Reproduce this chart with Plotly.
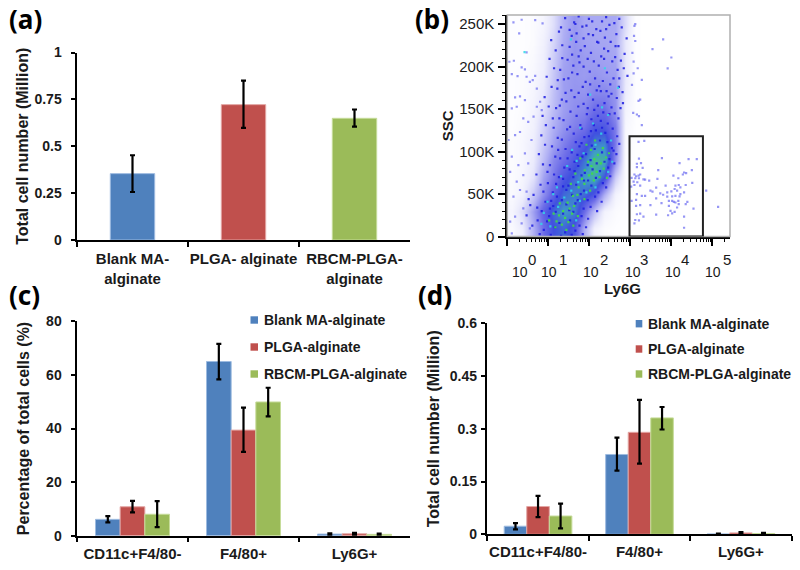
import math
import plotly.graph_objects as go

BLUE, RED, GREEN = "#4F81BD", "#C0504D", "#9BBB59"
FONT = "Liberation Sans"
W, H = 800, 570

# ---- panel (a)
a_cats = ["Blank MA-<br>alginate", "PLGA- alginate", "RBCM-PLGA-<br>alginate"]
a_vals = [0.354, 0.722, 0.649]
a_hi = [0.098, 0.128, 0.047]
a_lo = [0.098, 0.124, 0.044]
a_ticks = [0, 0.25, 0.5, 0.75, 1]
a_ticktext = ["0", "0.25", "0.5", "0.75", "1"]

# ---- panels (c), (d)
series = ["Blank MA-alginate", "PLGA-alginate", "RBCM-PLGA-alginate"]
cd_cats = ["CD11c+F4/80-", "F4/80+", "Ly6G+"]
c_vals = [[6.1, 65.0, 0.6], [10.8, 39.4, 0.7], [8.0, 49.9, 0.5]]
c_hi = [[1.2, 6.6, 0.3], [2.2, 8.4, 0.4], [4.9, 5.3, 0.3]]
c_lo = [[1.1, 6.7, 0.3], [2.1, 8.1, 0.4], [4.8, 5.4, 0.3]]
c_ticks = [0, 20, 40, 60, 80]
d_vals = [[0.023, 0.227, 0.001], [0.079, 0.290, 0.004], [0.052, 0.331, 0.002]]
d_hi = [[0.009, 0.048, 0.001], [0.030, 0.092, 0.002], [0.035, 0.031, 0.002]]
d_lo = [[0.009, 0.046, 0.001], [0.030, 0.089, 0.002], [0.035, 0.033, 0.002]]
d_ticks = [0, 0.15, 0.3, 0.45, 0.6]
d_ticktext = ["0", "0.15", "0.3", "0.45", "0.6"]

# ---- panel (b): flow-cytometry plot, x in decades of Ly6G, y in thousands of SSC
b_yticks = [0, 50, 100, 150, 200, 250]
b_yticktext = ["0", "50K", "100K", "150K", "200K", "250K"]
b_exponents = [0, 1, 2, 3, 4, 5]
b_gate_x = [2.98, 4.77]
b_gate_y = [0, 118]
dens_x = [0.125, 0.375, 0.625, 0.875, 1.125, 1.375, 1.625, 1.875, 2.125, 2.375, 2.625, 2.875, 3.125]
dens_y = [10, 30, 50, 70, 90, 110, 130, 150, 170, 190, 210, 230, 250]
dens_z = [
    [.3, .9, 3.0, 5.0, 6.5, 7.0, 6.0, 3.0, .7, .2, .1, .05, 0],
    [.5, 1.5, 3.5, 5.5, 7.0, 8.0, 7.5, 5.0, 2.5, .6, .2, .1, 0],
    [.3, .7, 2.2, 4.0, 5.5, 7.0, 7.5, 7.0, 6.0, 3.0, .6, .1, 0],
    [.2, .5, 1.3, 3.4, 4.6, 6.0, 7.0, 8.0, 8.5, 6.5, 2.0, .2, .05],
    [.2, .4, 1.0, 2.6, 4.2, 5.0, 6.0, 7.2, 8.8, 8.5, 4.0, .2, .05],
    [.2, .4, .9, 2.1, 3.4, 4.4, 5.2, 6.0, 7.4, 7.6, 4.5, .3, .05],
    [.1, .3, .7, 1.8, 3.0, 3.8, 4.4, 4.8, 6.0, 6.0, 4.5, .4, .05],
    [.1, .2, .6, 1.4, 2.6, 3.5, 4.0, 4.2, 5.0, 5.0, 3.8, .6, .1],
    [.1, .2, .5, 1.1, 2.4, 3.5, 3.8, 3.8, 4.2, 4.2, 3.8, .9, .1],
    [.1, .2, .4, .9, 2.2, 3.5, 3.7, 3.6, 3.8, 3.6, 3.5, 1.1, .1],
    [.1, .1, .3, .8, 2.0, 3.3, 3.8, 3.6, 3.5, 3.4, 3.3, 1.1, .1],
    [.1, .1, .2, .7, 1.7, 3.1, 3.7, 3.4, 3.3, 3.3, 3.1, 1.1, .1],
    [.1, .1, .2, .5, 1.4, 2.9, 3.7, 3.2, 3.2, 3.2, 3.2, 1.5, .1],
]
events_x = [3.34, 3.20, 3.21, 3.77, 4.42, 4.62, 4.20, 3.16, 3.26, 3.16, 3.30, 3.68, 4.50, 4.31, 4.36, 4.28, 4.05,
            3.10, 3.14, 3.20, 3.24, 3.03, 3.12, 3.21, 3.32, 3.36, 3.46, 3.66, 4.17, 3.08, 3.17, 4.51, 3.10, 3.24,
            3.02, 3.86, 4.10, 4.18, 4.35, 4.08, 4.22, 3.49, 3.54, 3.63, 4.00, 4.14, 4.31, 4.22, 3.73, 3.90, 3.80,
            3.36, 3.28, 3.16, 4.10, 4.20, 4.02, 3.90, 3.63, 4.39, 3.14, 3.03, 4.17, 4.10, 4.02, 4.06, 3.94, 4.35,
            3.76, 3.14, 3.24, 3.49, 3.94, 4.18, 4.14, 4.54, 3.98, 3.92, 4.08, 4.02, 3.63, 4.31, 3.24, 3.16, 3.32,
            3.12, 3.21, 3.10, 4.31, 4.85, 5.14,
            3.80, 3.54, 4.00, 3.91, 3.28, 3.24, 3.18, 3.20, 3.16, 3.21, 3.28, 3.12, 3.10, 3.12, 3.09, 3.05, 3.08,
            3.08, 3.04, 3.07,
            .15, .35, .68, .86, .29, .47, .16, .05, .11, .25, .47, .68, .62, .55, .35, .43, .72, .19, .31, .43, .11,
            .23, .39, .51, .72, .80, .64, .84, .03, .19, .31, .11, .07, .27, .43, .59, .23, .39, .51, .15, .31, .47,
            .07, .19, .39, .11, .35, .55]
events_y = [112.6, 111.4, 91.6, 92.4, 91.2, 91.2, 86.5, 85.7, 86.5, 81.7, 80.9, 78.1, 78.1, 75.4, 74.6, 73, 71.8,
            73, 71, 71.8, 73, 69, 68.6, 68.6, 67.4, 67, 65.9, 67.8, 68.6, 64.7, 63.9, 63.1, 60.7, 59.9,
            58.7, 59.9, 59.9, 60.7, 60.7, 56, 57.9, 54, 52.8, 57.5, 53.2, 54, 52, 50, 50.8, 52, 49.2,
            48, 48, 50, 48, 47.2, 47.2, 46.9, 44.9, 40.9, 43.3, 42.1, 42.1, 40.1, 42.1, 40.9, 42.1, 38.1,
            39.3, 36.2, 37, 37, 36.2, 38.1, 34.2, 33, 30.2, 25.1, 29, 27.4, 25.9, 23.5, 27, 26.3, 23.5,
            19.5, 19.1, 15.6, 10.4, 54, 35,
            232, 220.5, 210.6, 197.9, 184.4, 161, 198, 159.5, 143.6, 141.7, 131, 249.8, 247.8, 230, 236, 216, 205.8,
            192, 178.5, 145.6,
            252, 255, 254.6, 250.7, 239, 216.6, 206.8, 205.6, 191, 188.8, 188, 189, 184, 182, 199, 196.6, 174, 163.7,
            165, 160.6, 150.8, 152.7, 139, 135, 152.7, 158.6, 141, 148.8, 113.6, 119.4, 123, 94, 76, 84, 97.9, 113.6,
            64.6, 72.4, 86, 46.9, 54.8, 52.8, 17.5, 23.4, 33.2, 3.8, 15.6, 9.7]
# dense-cloud events, placed by eye
cloud_blue = [
    (1.41, 257), (1.66, 250), (1.74, 259), (1.83, 247), (2.07, 253), (2.17, 244), (2.41, 258), (2.49, 249), (2.73, 256), (2.79, 246),
    (1.26, 241), (1.57, 236), (1.63, 252), (1.86, 233), (1.93, 248), (2.19, 229), (2.27, 242), (2.38, 234), (2.66, 238), (2.71, 224),
    (1.07, 231), (1.34, 225), (1.52, 243), (1.79, 219), (1.98, 238), (2.04, 216), (2.31, 253), (2.46, 218), (2.52, 229), (2.63, 211), (2.91, 233),
    (1.18, 219), (1.47, 208), (1.68, 229), (1.76, 205), (1.89, 224), (2.23, 201), (2.36, 221), (2.56, 206), (2.61, 251), (2.86, 215),
    (1.03, 209), (1.29, 196), (1.58, 214), (1.71, 191), (1.96, 209), (2.14, 186), (2.29, 212), (2.43, 193), (2.69, 196), (2.77, 207), (2.93, 189),
    (1.14, 198), (1.38, 185), (1.61, 201), (1.84, 176), (2.01, 194), (2.18, 172), (2.33, 183), (2.51, 179), (2.72, 176), (2.84, 198),
    (0.96, 188), (1.22, 174), (1.49, 186), (1.64, 164), (1.91, 182), (2.09, 161), (2.24, 177), (2.47, 165), (2.59, 186), (2.81, 170),
    (1.08, 176), (1.33, 161), (1.56, 172), (1.73, 153), (1.97, 167), (2.12, 149), (2.37, 157), (2.42, 171), (2.67, 163), (2.76, 151),
    (0.91, 164), (1.19, 151), (1.44, 159), (1.69, 142), (1.86, 156), (2.05, 138), (2.21, 154), (2.34, 146), (2.54, 152), (2.71, 139),
    (1.01, 153), (1.27, 139), (1.54, 147), (1.78, 131), (1.94, 144), (2.16, 125), (2.28, 136), (2.45, 133), (2.62, 145), (2.82, 157),
    (0.86, 142), (1.13, 128), (1.37, 137), (1.62, 121), (1.81, 127), (1.99, 118), (2.11, 131), (2.39, 122), (2.57, 127), (2.68, 118),
    (0.94, 131), (1.23, 116), (1.46, 126), (1.67, 111), (1.88, 117), (2.06, 107), (2.26, 113), (2.44, 111), (2.59, 101), (2.73, 109),
    (0.83, 119), (1.09, 106), (1.33, 114), (1.57, 99), (1.76, 106), (1.92, 97), (2.13, 103), (2.31, 99), (2.49, 91), (2.66, 97),
    (0.92, 108), (1.17, 94), (1.42, 103), (1.64, 88), (1.83, 94), (2.03, 90), (2.18, 86), (2.37, 88), (2.55, 104), (2.61, 86),
    (0.77, 97), (1.04, 84), (1.29, 92), (1.52, 79), (1.73, 83), (1.89, 75), (2.08, 79), (2.26, 77), (2.46, 81),
    (0.87, 85), (1.14, 73), (1.39, 81), (1.61, 70), (1.81, 72), (1.97, 66), (2.16, 69), (2.33, 63), (2.51, 71),
    (0.71, 73), (0.99, 63), (1.26, 70), (1.49, 60), (1.68, 61), (1.87, 54), (2.05, 60), (2.22, 52), (2.41, 58),
    (0.81, 61), (1.11, 52), (1.36, 59), (1.58, 49), (1.79, 50), (1.96, 43), (2.14, 47), (2.3, 41),
    (0.64, 49), (0.93, 41), (1.21, 47), (1.44, 38), (1.66, 39), (1.86, 33), (2.03, 35), (2.19, 30),
    (0.56, 37), (0.84, 30), (1.12, 36), (1.36, 27), (1.61, 29), (1.81, 24), (1.97, 21),
    (0.47, 25), (0.74, 19), (1.02, 24), (1.27, 16), (1.53, 19), (1.76, 13), (1.92, 11),
    (0.61, 13), (0.89, 8), (1.16, 11), (1.41, 5), (1.66, 7), (1.84, 3), (0.79, 3), (1.06, 2), (1.31, 1), (1.57, 2),
    (1.52, 223), (2.09, 237), (1.74, 212), (2.41, 244), (1.31, 246), (2.28, 171), (1.99, 256), (2.64, 224), (1.69, 239), (2.11, 206),
    (1.42, 169), (1.86, 200), (2.54, 168), (1.23, 184), (2.02, 179), (2.36, 209), (1.58, 193), (2.73, 186), (1.34, 210), (2.22, 228),
    (1.11, 139), (1.74, 169), (2.31, 128), (1.53, 129), (1.96, 151), (2.49, 144), (1.28, 154), (2.04, 124), (1.81, 110), (2.21, 142),
    (1.47, 92), (0.98, 76), (1.71, 96), (1.24, 102), (1.96, 84), (1.36, 68), (0.88, 53), (1.64, 77), (1.07, 42), (1.19, 62),
    (1.51, 31), (0.97, 18), (1.33, 43), (1.72, 43), (1.18, 29), (0.73, 34), (1.44, 55), (1.04, 33), (1.87, 66), (0.52, 44),
]
cloud_green = [
    (2.04, 102), (2.21, 96), (2.33, 104), (1.97, 88), (2.12, 91), (2.28, 86), (2.41, 93), (1.89, 78), (2.05, 83), (2.18, 76),
    (2.35, 80), (1.82, 68), (1.99, 72), (2.11, 66), (2.25, 70), (1.74, 58), (1.88, 62), (2.02, 54), (1.6, 48), (1.47, 40),
    (1.36, 30), (1.52, 33), (1.41, 22), (1.26, 25), (1.58, 27), (1.33, 14), (1.49, 17), (1.2, 18),
    (1.78, 92), (1.93, 108), (2.48, 98), (2.14, 113), (1.66, 74), (2.43, 69), (1.55, 62), (1.71, 49), (1.88, 44), (2.07, 74),
    (1.28, 39), (1.13, 27), (1.63, 36), (1.02, 19), (1.17, 11), (1.44, 8), (1.61, 13), (1.72, 24),
]
cloud_cyan = [
    (1.55, 232), (2.38, 198), (2.02, 167), (2.46, 143), (1.78, 128), (2.53, 113), (1.58, 102), (2.15, 108), (1.69, 89), (2.46, 76),
    (1.31, 71), (1.73, 64), (2.15, 58), (1.12, 50), (1.56, 54), (0.98, 41), (1.77, 42), (1.24, 35), (0.89, 28), (1.68, 19),
    (1.05, 12), (0.42, 217), (2.7, 175),
    (2.29, 121), (2.09, 133), (1.46, 83), (1.86, 98), (2.56, 88), (1.21, 58), (1.93, 52), (0.83, 15), (1.39, 46), (2.31, 152),
]

LINE = dict(showline=True, linecolor="black", linewidth=2, ticks="outside", tickcolor="black",
            tickwidth=2, ticklen=4.5, showgrid=False, zeroline=False, automargin=False, tickangle=0)
TICKFONT = dict(family=FONT, size=15, color="#1a1a1a", weight="bold")
YTICKFONT = dict(TICKFONT, size=14)
TITLEFONT = dict(family=FONT, size=16, color="#1a1a1a", weight="bold")


def px_x(a, b):
    return [a / W, b / W]


def px_y(top, bottom):
    return [1 - bottom / H, 1 - top / H]


fig = go.Figure()
ERR = dict(type="data", symmetric=False, color="black", thickness=2.2, width=2.5)
LIGHT = {BLUE: "#9DBBE0", RED: "#E3A5A3", GREEN: "#C6DC9A"}
colors = [BLUE, RED, GREEN]

fig.add_trace(go.Bar(x=a_cats, y=a_vals, width=0.4, xaxis="x", yaxis="y", showlegend=False,
                     marker=dict(color=colors, line=dict(color=[LIGHT[c] for c in colors], width=1)),
                     error_y=dict(ERR, array=a_hi, arrayminus=a_lo)))
for i, name in enumerate(series):
    fig.add_trace(go.Bar(name=name, x=cd_cats, y=c_vals[i], xaxis="x3", yaxis="y3", showlegend=False,
                         marker=dict(color=colors[i], line=dict(color=LIGHT[colors[i]], width=1)),
                         error_y=dict(ERR, array=c_hi[i], arrayminus=c_lo[i])))
for i, name in enumerate(series):
    fig.add_trace(go.Bar(name=name, x=cd_cats, y=d_vals[i], xaxis="x4", yaxis="y4", showlegend=False,
                         marker=dict(color=colors[i], line=dict(color=LIGHT[colors[i]], width=1)),
                         error_y=dict(ERR, array=d_hi[i], arrayminus=d_lo[i])))

fig.add_trace(go.Heatmap(x=dens_x, y=dens_y, z=dens_z, xaxis="x2", yaxis="y2", zsmooth="best", showscale=False,
                         zmin=0, zmax=10, hoverinfo="skip",
                         colorscale=[[0, "#FFFFFF"], [0.1, "#EBEBFC"], [0.3, "#B0B0F4"], [0.5, "#6C6CE8"],
                                     [0.65, "#4050E0"], [0.8, "#3F9CC8"], [0.9, "#48C088"], [1, "#50D060"]]))
fig.add_trace(go.Scatter(x=events_x, y=events_y, mode="markers", xaxis="x2", yaxis="y2", showlegend=False,
                         marker=dict(symbol="square", size=2.2, color="#5050EE", opacity=0.6)))
for pts, col in [(cloud_blue, "#1C1CE0"), (cloud_cyan, "#30D8E8"), (cloud_green, "#40E040")]:
    fig.add_trace(go.Scatter(x=[p[0] for p in pts], y=[p[1] for p in pts], mode="markers", xaxis="x2", yaxis="y2",
                             showlegend=False, marker=dict(symbol="square", size=2.2, color=col, opacity=0.85)))

layout = dict(
    template="none",
    width=W, height=H, margin=dict(l=0, r=0, t=0, b=0), paper_bgcolor="white", plot_bgcolor="white",
    barmode="group", bargap=1 / 3, bargroupgap=0, font=dict(family=FONT, color="#1a1a1a"), showlegend=False,
    xaxis=dict(LINE, domain=px_x(77, 410), anchor="y", type="category", tickson="boundaries", tickfont=TICKFONT, ticklabelstandoff=4),
    yaxis=dict(LINE, domain=px_y(52.5, 240), anchor="x", range=[0, 1], tickvals=a_ticks, ticktext=a_ticktext, ticklabelstandoff=6,
               tickfont=YTICKFONT, title=dict(text="Total cell number (Million)", font=TITLEFONT, standoff=2)),
    xaxis3=dict(LINE, domain=px_x(77, 410), anchor="y3", type="category", tickson="boundaries", tickfont=TICKFONT, ticklabelstandoff=3),
    yaxis3=dict(LINE, domain=px_y(321.3, 535.7), anchor="x3", range=[0, 80], tickvals=c_ticks, ticklabelstandoff=6,
                tickfont=YTICKFONT, title=dict(text="Percentage of total cells (%)", font=TITLEFONT, standoff=13)),
    xaxis4=dict(LINE, domain=px_x(487.3, 791.7), anchor="y4", type="category", tickson="boundaries", tickfont=TICKFONT, ticklabelstandoff=3),
    yaxis4=dict(LINE, domain=px_y(323.3, 534.3), anchor="x4", range=[0, 0.6], tickvals=d_ticks, ticktext=d_ticktext, ticklabelstandoff=1,
                tickfont=YTICKFONT, title=dict(text="Total cell number (Million)", font=TITLEFONT, standoff=6)),
    xaxis2=dict(LINE, domain=px_x(507.3, 730), anchor="y2", range=[0, 5.43], tickvals=b_exponents, showticklabels=False,
                ticklen=7, tickwidth=1.5,
                minor=dict(tickmode="array", ticks="outside", ticklen=3.5, tickcolor="black", tickwidth=1,
                           tickvals=[e + math.log10(m) for e in range(0, 6) for m in range(2, 10) if e + math.log10(m) < 5.43])),
    yaxis2=dict(LINE, domain=px_y(15, 236.6), anchor="x2", range=[0, 260.6], tickvals=b_yticks, ticktext=b_yticktext,
                ticklen=7, tickwidth=1.5, ticklabelstandoff=1, tickfont=dict(family=FONT, size=15, color="#1a1a1a"),
                minor=dict(dtick=10, ticks="outside", ticklen=3.5, tickcolor="black", tickwidth=1),
                title=dict(text="SSC", font=dict(TITLEFONT, size=15), standoff=2)),
    shapes=[
        dict(type="rect", xref="x2 domain", yref="y2 domain", x0=0, x1=1, y0=0, y1=1, line=dict(color="#B0B0B0", width=1.5)),
        dict(type="rect", xref="x2", yref="y2", x0=b_gate_x[0], x1=b_gate_x[1], y0=b_gate_y[0], y1=b_gate_y[1],
             line=dict(color="#222222", width=2)),
    ],
)

ann = []
for txt, x, y in [("(a)", 7, 19), ("(b)", 413, 19), ("(c)", 7, 295), ("(d)", 416, 295)]:
    ann.append(dict(text=txt, x=x / W, y=1 - y / H, xref="paper", yref="paper", xanchor="left", yanchor="middle",
                    showarrow=False, font=dict(family="Noto Sans", size=26, color="black", weight="bold")))
shift10 = [13, 1, 2, 3, 2, 1]
shiftsup = [25, 15, 15, 14, 14, 15]
for e in b_exponents:
    ann.append(dict(text="10", x=e, y=0, xref="x2", yref="y2 domain", xshift=shift10[e], yshift=-35.4, xanchor="center",
                    yanchor="middle", showarrow=False, font=dict(family=FONT, size=14, color="#1a1a1a")))
    ann.append(dict(text=str(e), x=e, y=0, xref="x2", yref="y2 domain", xshift=shiftsup[e], yshift=-22.4, xanchor="center",
                    yanchor="middle", showarrow=False, font=dict(family=FONT, size=15, color="#1a1a1a")))
ann.append(dict(text="Ly6G", x=622 / W, y=1 - 288.5 / H, xref="paper", yref="paper", xanchor="center", yanchor="middle",
                showarrow=False, font=dict(TITLEFONT, size=15)))

# legend entries for panels (c) and (d)
shapes = layout["shapes"]
for (sx0, sx1, tx, rows) in [(250.5, 258, 262, [320, 347, 374]), (635.7, 642.3, 646, [323.7, 349, 374])]:
    for i, name in enumerate(series):
        y = rows[i]
        shapes.append(dict(type="rect", xref="paper", yref="paper", x0=sx0 / W, x1=sx1 / W,
                           y0=1 - (y + 3.7) / H, y1=1 - (y - 3.7) / H, fillcolor=colors[i], line=dict(width=0)))
        ann.append(dict(text=name, x=tx / W, y=1 - y / H, xref="paper", yref="paper", xanchor="left", yanchor="middle",
                        showarrow=False, font=dict(family=FONT, size=14, color="#1a1a1a", weight="bold")))
layout["annotations"] = ann
fig.update_layout(**layout)
fig.write_html("out.html", config=dict(displayModeBar=False), post_script="document.body.style.margin='0';")
